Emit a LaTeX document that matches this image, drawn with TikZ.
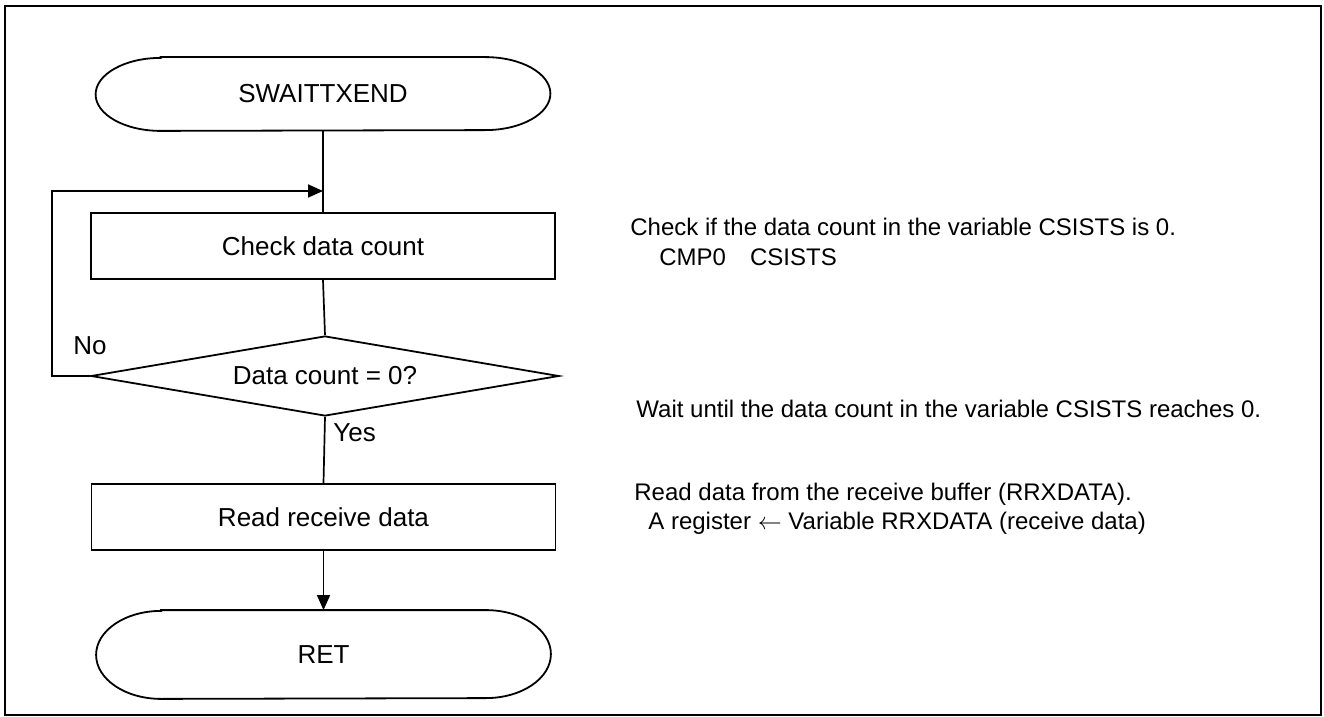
\documentclass[tikz,border=0pt]{standalone}
\usepackage{fontspec}
\setmainfont{Liberation Sans}
\usetikzlibrary{shapes.geometric,arrows.meta,calc}
\begin{document}
\begin{tikzpicture}[x=0.5pt,y=-0.5pt,
  boxfont/.style={font=\fontsize{13}{15.6}\selectfont},
  notefont/.style={font=\fontsize{12}{14.4}\selectfont},
  ln/.style={line width=0.85pt},
  arr/.style={ln,-{Triangle[length=7.5pt,width=6.5pt]}},
  procbox/.style={draw,line width=0.95pt,boxfont,minimum width=232pt,minimum height=33pt,inner sep=0pt},
  termnode/.style={boxfont,minimum width=227pt,inner sep=0pt},
  decbox/.style={draw,diamond,line width=0.9pt,boxfont,aspect=5.85,minimum width=234pt,minimum height=40pt,inner sep=0pt},
  note/.style={notefont,anchor=base west,inner sep=0pt},
  lbl/.style={boxfont,anchor=base west,inner sep=0pt}]
\useasboundingbox (0,0) rectangle (1324,717);
\draw[line width=1.3pt] (5,6) rectangle (1321,715);

% terminators
\node[termnode,minimum height=36.5pt] (start) at (323,94) {SWAITTXEND};
\draw[line width=0.9pt] ([xshift=32.5pt]start.north west) -- ([xshift=-32.5pt]start.north east)
  arc[start angle=90,end angle=-90,x radius=32.5pt,y radius=18.25pt]
  -- ([xshift=32.5pt]start.south west)
  arc[start angle=270,end angle=90,x radius=32.5pt,y radius=18.25pt] -- cycle;

\node[termnode,minimum height=44pt] (ret) at (323.5,654.5) {RET};
\draw[line width=0.9pt] ([xshift=32.5pt]ret.north west) -- ([xshift=-32.5pt]ret.north east)
  arc[start angle=90,end angle=-90,x radius=32.5pt,y radius=22pt]
  -- ([xshift=32.5pt]ret.south west)
  arc[start angle=270,end angle=90,x radius=32.5pt,y radius=22pt] -- cycle;

% process boxes and decision
\node[procbox] (chk) at (323,246) {Check data count};
\node[decbox] (dec) at (325,376) {Data count = 0?};
\node[procbox] (rd) at (323.5,517) {Read receive data};

% connectors
\coordinate (join) at (323,191);
\coordinate (lt) at (52,191);
\draw[ln] (start.south) -- (chk.north);
\draw[ln] (chk.south) -- (dec.north);
\draw[arr] (dec.west) -- (dec.west -| lt) -- (lt) -- (join);
\draw[ln] (dec.south) -- (rd.north);
\draw[arr] (rd.south) -- (ret.north);

% labels
\node[lbl] (no) at (73,354) {No};
\node[lbl] (yes) at (333,441) {Yes};

% annotations
\node[note] (n1) at (630,235) {Check if the data count in the variable CSISTS is 0.};
\node[note] (n2) at (659,265) {CMP0\hspace{12pt}CSISTS};
\node[note] (n3) at (636,417) {Wait until the data count in the variable CSISTS reaches 0.};
\node[note] (n4) at (634,500) {Read data from the receive buffer (RRXDATA).};
\node[note] (n5) at (648,529) {A register $\leftarrow$ Variable RRXDATA (receive data)};
\end{tikzpicture}
\end{document}
